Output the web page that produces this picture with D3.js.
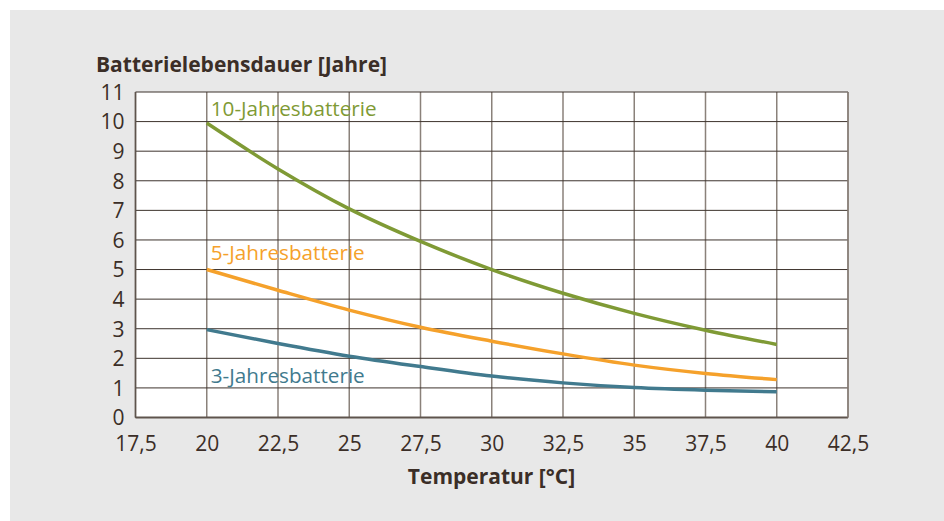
<!DOCTYPE html>
<html><head><meta charset="utf-8">
<script src="https://cdn.jsdelivr.net/npm/d3@7"></script>
<style>html,body{margin:0;padding:0;background:#fff;}svg{display:block;}</style>
</head><body>
<div id="chart"></div>
<script>
const temps = [20, 22.5, 25, 27.5, 30, 32.5, 35, 37.5, 40];
const years10 = [9.95, 8.4, 7.05, 5.95, 5.0, 4.2, 3.52, 2.95, 2.47];
const years5 = [5.0, 4.3, 3.63, 3.05, 2.58, 2.15, 1.77, 1.49, 1.28];
const years3 = [2.97, 2.5, 2.07, 1.72, 1.4, 1.17, 1.01, 0.92, 0.87];
const xTicks = [17.5, 20, 22.5, 25, 27.5, 30, 32.5, 35, 37.5, 40, 42.5];
const yTicks = [0, 1, 2, 3, 4, 5, 6, 7, 8, 9, 10, 11];
const seriesNames = ["10-Jahresbatterie", "5-Jahresbatterie", "3-Jahresbatterie"];
const seriesColors = ["#7f9a35", "#f5a12b", "#417a8e"];
const labelValues = [10.19, 5.32, 1.17];

const W = 944, H = 521;
const svg = d3.select("#chart").append("svg").attr("width", W).attr("height", H);
svg.append("rect").attr("x", 10).attr("y", 10).attr("width", W - 10).attr("height", H - 10).attr("fill", "#e8e8e8");

const x = d3.scaleLinear().domain([17.5, 42.5]).range([135.5, 848]);
const y = d3.scaleLinear().domain([0, 11]).range([417.5, 92]);
const font = "'Open Sans', sans-serif";
const textColor = "#3b2e27";

const g = svg.append("g");
g.append("rect").attr("x", x(17.5)).attr("y", y(11)).attr("width", x(42.5) - x(17.5)).attr("height", y(0) - y(11)).attr("fill", "#fff");

// vertical grid
g.selectAll(".vg").data(xTicks).join("line")
  .attr("x1", d => x(d)).attr("x2", d => x(d)).attr("y1", y(0)).attr("y2", y(11))
  .attr("stroke", "#8a817a").attr("stroke-width", 1.5);
// horizontal grid
g.selectAll(".hg").data(yTicks).join("line")
  .attr("x1", x(17.5)).attr("x2", x(42.5)).attr("y1", d => y(d)).attr("y2", d => y(d))
  .attr("stroke", "#3d332d").attr("stroke-width", 1);
g.append("line").attr("x1", x(17.5)).attr("x2", x(42.5)).attr("y1", y(0)).attr("y2", y(0)).attr("stroke", "#5e544d").attr("stroke-width", 1.8);
g.append("line").attr("x1", x(17.5)).attr("x2", x(17.5)).attr("y1", y(0)).attr("y2", y(11)).attr("stroke", "#5e544d").attr("stroke-width", 1.5);
g.append("line").attr("x1", x(42.5)).attr("x2", x(42.5)).attr("y1", y(0)).attr("y2", y(11)).attr("stroke", "#8a817a").attr("stroke-width", 1.5);

// axes tick labels
const xAxis = d3.axisBottom(x).tickValues(xTicks).tickSize(0).tickPadding(0)
  .tickFormat(d => String(d).replace(".", ","));
const xa = svg.append("g").attr("transform", `translate(0,${y(0) + 33.5})`).call(xAxis);
xa.select(".domain").remove();
xa.selectAll("text").attr("font-family", font).attr("font-size", 21).attr("fill", textColor).attr("dy", null).attr("y", 0);

const yAxis = d3.axisLeft(y).tickValues(yTicks).tickSize(0).tickPadding(0);
const ya = svg.append("g").attr("transform", `translate(${x(17.5) - 11},0)`).call(yAxis);
ya.select(".domain").remove();
ya.selectAll("text").attr("font-family", font).attr("font-size", 21).attr("fill", textColor).attr("dy", "0.35em");

// lines
const line = d3.line().x(d => x(d[0])).y(d => y(d[1])).curve(d3.curveMonotoneX);
[years10, years5, years3].forEach((vals, i) => {
  svg.append("path").datum(temps.map((t, j) => [t, vals[j]]))
    .attr("d", line).attr("fill", "none").attr("stroke", seriesColors[i]).attr("stroke-width", 3.5);
  svg.append("text").attr("x", x(20) + 4).attr("y", y(labelValues[i]))
    .attr("font-family", font).attr("font-size", 20.7).attr("fill", seriesColors[i]).text(seriesNames[i]);
});

// titles
svg.append("text").attr("x", 96).attr("y", 72).attr("font-family", font).attr("font-weight", 700)
  .attr("font-size", 21).attr("fill", textColor).text("Batterielebensdauer [Jahre]");
svg.append("text").attr("x", 491.5).attr("y", 484).attr("text-anchor", "middle").attr("font-family", font).attr("font-weight", 700)
  .attr("font-size", 21).attr("fill", textColor).text("Temperatur [°C]");
</script>
</body></html>
